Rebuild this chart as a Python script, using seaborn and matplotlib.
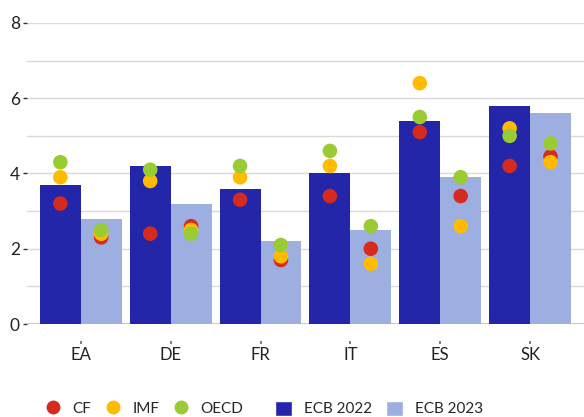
import pandas as pd
import matplotlib.pyplot as plt
import seaborn as sns
from matplotlib.lines import Line2D
from matplotlib.patches import Patch

# categories and values
countries = ['EA', 'DE', 'FR', 'IT', 'ES', 'SK']
ecb_2022 = [3.7, 4.2, 3.6, 4.0, 5.4, 5.8]
ecb_2023 = [2.8, 3.2, 2.2, 2.5, 3.9, 5.6]

cf_2022 = [3.2, 2.4, 3.3, 3.4, 5.1, 4.2]
cf_2023 = [2.3, 2.6, 1.7, 2.0, 3.4, 4.45]
imf_2022 = [3.9, 3.8, 3.9, 4.2, 6.4, 5.2]
imf_2023 = [2.4, 2.5, 1.8, 1.6, 2.6, 4.3]
oecd_2022 = [4.3, 4.1, 4.2, 4.6, 5.5, 5.0]
oecd_2023 = [2.5, 2.4, 2.1, 2.6, 3.9, 4.8]

years = ['2022', '2023']
bar_colors = {'2022': '#2326A8', '2023': '#9DAEE0'}
dot_colors = {'CF': '#D52B1E', 'IMF': '#FFBB00', 'OECD': '#99CC33'}

bars = pd.DataFrame({
    'country': countries * 2,
    'year': ['2022'] * 6 + ['2023'] * 6,
    'value': ecb_2022 + ecb_2023,
})

rows = []
for src, v22, v23 in [('CF', cf_2022, cf_2023), ('IMF', imf_2022, imf_2023),
                      ('OECD', oecd_2022, oecd_2023)]:
    for i, c in enumerate(countries):
        rows.append((src, c, '2022', v22[i]))
        rows.append((src, c, '2023', v23[i]))
dots = pd.DataFrame(rows, columns=['source', 'country', 'year', 'value'])

width = 0.91
offset = {'2022': -width / 4, '2023': width / 4}
dots['x'] = dots['country'].map({c: i for i, c in enumerate(countries)}) + dots['year'].map(offset)

sns.set_style('white')
plt.rcParams['font.family'] = ['Lato', 'DejaVu Sans']

fig = plt.figure(figsize=(5.84, 4.17), dpi=100)
ax = fig.add_axes([0.046, 0.223, 0.954, 0.722])

sns.barplot(data=bars, x='country', y='value', hue='year', order=countries,
            hue_order=years, palette=bar_colors, width=width, gap=0,
            saturation=1, linewidth=0, legend=False, ax=ax, zorder=2)
for src in ['CF', 'IMF', 'OECD']:
    d = dots[dots['source'] == src]
    sns.scatterplot(data=d, x='x', y='value', color=dot_colors[src], s=110,
                    edgecolor='none', legend=False, ax=ax, zorder=3)

ax.set_xlim(-0.6, 5.6)
ax.set_ylim(0, 8)
ax.set_yticks([0, 2, 4, 6, 8])
ax.set_yticks([1, 3, 5, 7], minor=True)
ax.yaxis.grid(True, which='both', color='#DADADA', linewidth=1)
ax.axhline(0, color='#C8C8C8', linewidth=2.2, zorder=1)
ax.set_axisbelow(True)
for s in ['top', 'right', 'left']:
    ax.spines[s].set_visible(False)
# x ticks sit a little below the baseline, detached from it
ax.spines['bottom'].set_position(('outward', 12.5))
ax.spines['bottom'].set_visible(False)
ax.tick_params(axis='y', which='major', left=True, length=3, width=1,
               color='#333333', labelsize=12.5, pad=2, labelcolor='#222222')
ax.tick_params(axis='y', which='minor', left=False, length=0)
ax.tick_params(axis='x', bottom=True, length=2, width=1.2, color='#666666',
               labelsize=12, pad=2, labelcolor='#222222')
ax.set_xlabel('')
ax.set_ylabel('')

dot_handles = [Line2D([], [], marker='o', linestyle='none', markersize=10,
                      markerfacecolor=dot_colors[k], markeredgecolor='none', label=k)
               for k in ['CF', 'IMF', 'OECD']]
bar_handles = [Patch(facecolor=bar_colors[y], label='ECB ' + y) for y in years]

fig.legend(handles=dot_handles, loc='center left', bbox_to_anchor=(0.078, 0.02),
           ncol=3, frameon=False, fontsize=11, handlelength=1.0,
           handletextpad=0.75, columnspacing=0.94, borderaxespad=0, borderpad=0)
fig.legend(handles=bar_handles, loc='center left', bbox_to_anchor=(0.471, 0.02),
           ncol=2, frameon=False, fontsize=11, handlelength=1.1, handleheight=1.1,
           handletextpad=0.78, columnspacing=0.92, borderaxespad=0, borderpad=0)

fig.savefig('out.png', dpi=100)
